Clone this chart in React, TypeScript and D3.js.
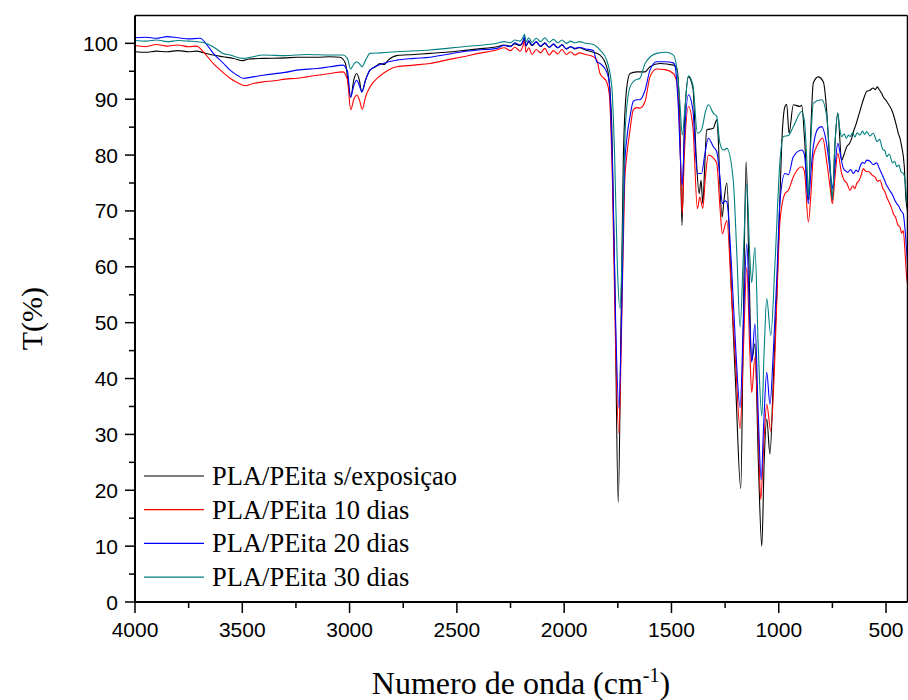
import React from "react";
import * as d3 from "d3";

type P = [number, number];

const seriesNames = [
  "PLA/PEita s/exposiçao",
  "PLA/PEita 10 dias",
  "PLA/PEita 20 dias",
  "PLA/PEita 30 dias",
];
const seriesColors = ["#000000", "#ff0000", "#0000ff", "#008080"];

const xTicks = [4000, 3500, 3000, 2500, 2000, 1500, 1000, 500];
const xMinorTicks = [3750, 3250, 2750, 2250, 1750, 1250, 750];
const yTicks = [0, 10, 20, 30, 40, 50, 60, 70, 80, 90, 100];
const yMinorTicks = [5, 15, 25, 35, 45, 55, 65, 75, 85, 95];

const black: P[] = [
  [4000, 98.5], [3950, 98.4], [3900, 98.6], [3850, 98.5], [3800, 98.7], [3750, 98.5], [3712, 98.6], [3680, 98.3], [3636, 97.9], [3590, 97.6], [3540, 97.3], [3497, 96.9], [3470, 97.2], [3403, 97.3], [3300, 97.4], [3246, 97.5], [3150, 97.5], [3091, 97.6], [3045, 97.5], [3020, 96.5], [2995, 90.3], [2980, 93.5], [2967, 94.6], [2955, 93.5], [2943, 91.3], [2925, 93.5], [2905, 95.2], [2880, 95.8], [2858, 96.4], [2840, 96.2], [2820, 97.0], [2780, 97.8], [2700, 98.0], [2625, 98.2], [2550, 98.4], [2471, 98.7], [2400, 99.0],
  [2314, 99.4], [2280, 99.7], [2250, 99.5], [2230, 99.9], [2206, 99.6], [2190, 100.4], [2185, 101.0], [2178, 99.5], [2165, 100.3], [2150, 99.6], [2130, 100.2], [2110, 99.4], [2090, 100.0], [2070, 99.3], [2050, 99.8], [2030, 99.2], [2010, 99.7], [1990, 99.0], [1970, 99.4], [1950, 99.0], [1930, 99.2], [1900, 98.8],
  [1864, 98.4], [1833, 97.9], [1802, 95.8], [1794, 94.5], [1778, 85], [1763, 55], [1748, 17.8], [1735, 50], [1724, 80], [1708, 92.2], [1693, 94.6], [1662, 94.9], [1623, 94.9], [1600, 95.8], [1553, 96.4], [1491, 96.1], [1475, 95.5], [1462, 88], [1451, 67.4], [1440, 85], [1421, 94], [1400, 92], [1385, 80], [1371, 73.1], [1362, 75.5], [1354, 71.3], [1345, 78], [1336, 84.5], [1305, 84.8], [1289, 86.3], [1282, 83], [1274, 74.5], [1264, 68.9], [1255, 72], [1242, 75], [1225, 60], [1200, 38], [1177, 20.3], [1165, 50], [1152, 78.8], [1140, 62], [1126, 43.2], [1111, 46.2], [1095, 25], [1079, 10], [1068, 25], [1056, 32.8], [1041, 26.5], [1025, 40], [1009, 55.2], [994, 73], [986, 82.1], [971, 88.7], [963, 89.1], [952, 83.9], [932, 89], [901, 88.7], [893, 88.9], [880, 83], [862, 71.9], [850, 85], [839, 92.9], [816, 94], [792, 93.1], [777, 88.1], [760, 77], [750, 71.9], [738, 82], [725, 87.5],
  [707, 79.1], [695, 80.2], [683, 81.5], [670, 82.1], [660, 83.0], [652, 84.2], [640, 85.5], [630, 86.8], [621, 88], [605, 90.0], [590, 91.4], [575, 91.6], [560, 92.0], [550, 91.7], [541, 92.2], [530, 91.6], [520, 91.0], [513, 90.4], [500, 89.8], [490, 89.2], [474, 88.1], [460, 86.5], [450, 85.0], [443, 83.9], [435, 83.0], [427, 81.5], [415, 78], [407, 71.9], [400, 70],
];

const red: P[] = [
  [4000, 99.6], [3950, 99.4], [3900, 99.8], [3850, 99.5], [3800, 99.7], [3750, 99.4], [3712, 99.5], [3689, 98.8], [3636, 96.4], [3590, 94.8], [3557, 93.75], [3520, 92.9], [3487, 92.4], [3450, 92.8], [3403, 93.1], [3350, 93.3], [3300, 93.6], [3246, 93.75], [3200, 94.0], [3150, 94.3], [3091, 94.6], [3031, 94.9], [3010, 93.5], [2995, 88.1], [2980, 90], [2967, 90.75], [2955, 90], [2941, 88.2], [2925, 90.5], [2905, 92.2], [2870, 93.8], [2844, 94.6], [2780, 95.8], [2700, 96.1], [2625, 96.4], [2550, 97.0], [2471, 97.6], [2400, 98.2],
  [2314, 98.8], [2280, 99.2], [2250, 98.7], [2230, 99.3], [2206, 98.6], [2190, 99.8], [2185, 100.5], [2178, 98.4], [2165, 99.2], [2150, 98.0], [2130, 98.9], [2110, 98.3], [2090, 99.1], [2070, 97.9], [2050, 98.7], [2030, 98.1], [2010, 98.9], [1990, 98.0], [1970, 98.5], [1950, 97.9], [1930, 98.3], [1900, 98.0],
  [1864, 97.6], [1848, 97], [1833, 94.6], [1802, 93.1], [1790, 91], [1775, 75], [1760, 45], [1745, 30.2], [1732, 50], [1718, 75], [1708, 80], [1693, 84.5], [1678, 88.1], [1662, 88.5], [1647, 88.4], [1623, 89.6], [1600, 94], [1569, 95.4], [1530, 95.3], [1491, 94.6], [1475, 93], [1462, 85], [1450, 69.5], [1440, 80], [1421, 88.7], [1400, 85], [1379, 70.4], [1368, 72.5], [1354, 70.5], [1342, 76], [1328, 80], [1305, 79.5], [1289, 78.5], [1274, 70.7], [1263, 65.9], [1250, 67.5], [1242, 68.3], [1220, 55], [1200, 42], [1180, 31], [1165, 45], [1149, 59.9], [1135, 45], [1126, 37.5], [1111, 43.8], [1095, 30], [1084, 18.3], [1070, 28], [1056, 35.4], [1037, 30.6], [1020, 42], [1009, 54], [994, 68.3], [971, 73.1], [955, 73.7], [932, 76.1], [893, 77.9], [880, 77], [862, 68], [850, 73], [839, 79.7], [816, 82.1], [795, 83], [777, 79], [760, 74], [750, 71.3], [738, 76], [725, 80.3],
  [707, 76.7], [695, 75.5], [683, 75.0], [668, 73.7], [655, 74.5], [645, 74.0], [637, 74.9], [625, 75.5], [615, 76.5], [606, 77.6], [595, 77.1], [580, 77], [565, 76.4], [550, 76.0], [540, 75.3], [528, 75.5], [515, 74.0], [505, 73.4], [497, 72.5], [485, 71.5], [475, 70.6], [466, 69.5], [455, 68.8], [445, 67.5], [435, 67.1], [427, 66.0], [420, 66.5], [412, 63], [404, 58.1], [400, 57],
];

const blue: P[] = [
  [4000, 101.0], [3950, 101.1], [3900, 100.9], [3850, 101.2], [3800, 101.0], [3750, 100.8], [3697, 100.9], [3660, 99.5], [3635, 98.2], [3590, 96.5], [3557, 95.2], [3520, 94.2], [3497, 93.75], [3450, 94.0], [3403, 94.3], [3300, 94.8], [3246, 95.2], [3150, 95.5], [3091, 95.8], [3031, 96.1], [3010, 95], [2995, 90.4], [2980, 92.5], [2967, 93.4], [2955, 92.5], [2943, 91.3], [2925, 93.5], [2905, 95.2], [2844, 96.4], [2780, 97.0], [2700, 97.3], [2625, 97.5], [2550, 98], [2471, 98.5], [2400, 98.8],
  [2314, 99.1], [2280, 99.6], [2250, 99.4], [2230, 100.1], [2206, 99.7], [2190, 100.6], [2185, 101.2], [2178, 99.6], [2165, 100.5], [2150, 99.7], [2130, 100.3], [2110, 99.5], [2090, 100.1], [2070, 99.3], [2050, 99.9], [2030, 99.2], [2010, 99.8], [1990, 99.0], [1970, 99.4], [1950, 99.1], [1930, 99.3], [1900, 99.0],
  [1864, 98.7], [1848, 96.7], [1833, 96.4], [1802, 94.9], [1790, 93], [1775, 78], [1760, 50], [1745, 34.7], [1732, 52], [1718, 78], [1708, 83], [1693, 86.9], [1678, 89.6], [1662, 89.9], [1647, 89.9], [1623, 91.6], [1600, 95.2], [1569, 96.7], [1530, 96.7], [1491, 96.5], [1482, 95.8], [1470, 90], [1450, 74.6], [1440, 83], [1421, 90.8], [1400, 88], [1379, 76.7], [1360, 76.7], [1345, 80], [1328, 83], [1305, 81.5], [1289, 80.6], [1274, 76], [1263, 71.3], [1250, 71.8], [1242, 71.6], [1220, 60], [1200, 45], [1180, 34.8], [1165, 50], [1149, 64.1], [1135, 50], [1126, 42.9], [1111, 49.8], [1095, 33], [1082, 21.9], [1070, 32], [1056, 41.1], [1041, 35.4], [1025, 45], [1009, 58.1], [994, 71.9], [971, 76.7], [955, 76.5], [932, 79.7], [893, 80.9], [880, 80], [862, 71.3], [850, 77], [839, 81.5], [816, 84.8], [800, 85.1], [777, 82], [760, 77], [750, 74], [738, 78],
  [725, 82.1], [710, 79.5], [699, 77.6], [690, 77.2], [680, 76.9], [665, 77.4], [652, 76.7], [640, 77.3], [630, 77.0], [621, 78], [610, 78.7], [600, 78.5], [590, 79.1], [575, 78.9], [560, 78.3], [544, 78.6], [530, 77.5], [515, 76.2], [505, 75.3], [497, 74.6], [485, 73.8], [470, 72.9], [460, 72.0], [450, 71.3], [440, 70.8], [430, 70.0], [420, 69.5], [410, 66], [401, 61.1], [400, 60.5],
];

const teal: P[] = [
  [4000, 100.5], [3950, 100.4], [3900, 100.6], [3850, 100.3], [3800, 100.5], [3750, 100.4], [3689, 100.2], [3636, 99.4], [3590, 98.2], [3557, 97.9], [3497, 97.3], [3450, 97.6], [3403, 97.9], [3300, 97.8], [3200, 98.0], [3091, 97.9], [3031, 97.9], [3010, 97.3], [2995, 95.4], [2980, 96.3], [2967, 96.7], [2955, 96.4], [2943, 95.8], [2925, 97], [2905, 98.2], [2858, 98.3], [2780, 98.5], [2625, 98.8], [2471, 99.4],
  [2314, 100], [2280, 100.3], [2250, 100.1], [2230, 100.6], [2206, 100.4], [2190, 101.2], [2185, 101.6], [2178, 100.3], [2165, 101.0], [2150, 100.2], [2130, 100.9], [2110, 100.3], [2090, 101.0], [2070, 100.2], [2050, 100.7], [2030, 100.1], [2010, 100.6], [1990, 100.0], [1970, 100.4], [1950, 100.1], [1930, 100.3], [1900, 100.0],
  [1864, 99.8], [1833, 98.8], [1802, 97], [1778, 92.2], [1765, 80], [1752, 60], [1740, 52.5], [1728, 65], [1715, 85], [1693, 92.2], [1670, 93.4], [1647, 93.75], [1623, 96.4], [1569, 98.2], [1522, 98.4], [1491, 97.9], [1475, 95.5], [1462, 90], [1449, 83.6], [1438, 88], [1421, 94.2], [1400, 92.5], [1379, 83.9], [1360, 84.5], [1340, 88], [1328, 89], [1305, 87.5], [1289, 86.9], [1274, 82.1], [1258, 80.9], [1242, 81.2], [1212, 75.5], [1195, 62], [1180, 49.2], [1165, 62], [1149, 74.9], [1135, 62], [1126, 57.2], [1111, 63.5], [1095, 45], [1079, 33.3], [1068, 45], [1056, 54.3], [1037, 47.7], [1017, 61.1], [994, 79.1], [979, 83.3], [955, 83.5], [932, 85.1], [893, 87.8], [880, 86], [868, 78], [862, 72.5], [850, 83], [839, 89.3], [800, 89.9], [777, 87], [760, 78], [750, 72], [738, 82],
  [725, 87.5], [715, 84.5], [707, 83.3], [695, 83.8], [685, 83.0], [675, 83.6], [668, 83.3], [655, 84.0], [645, 83.2], [635, 84.0], [621, 83.6], [610, 84.3], [600, 83.7], [590, 84.2], [575, 83.4], [560, 83.9], [541, 82.4], [530, 82.8], [515, 81.0], [505, 80.8], [497, 79.7], [485, 80.2], [470, 78.6], [460, 78.9], [450, 77.9], [440, 78.2], [430, 77.0], [419, 76.7], [410, 75], [404, 71.9], [400, 71],
];

const allSeries = [black, red, blue, teal];

const SANS = "'Liberation Sans', Arimo, Arial, sans-serif";
const SERIF = "'Liberation Serif', Tinos, 'Times New Roman', serif";

export default function App() {
  const W = 908;
  const H = 700;
  const x = d3.scaleLinear().domain([4000, 400]).range([135, 907.5]);
  const y = d3.scaleLinear().domain([0, 105]).range([602, 15.4]);
  const line = d3
    .line<P>()
    .x((d) => x(d[0]))
    .y((d) => y(d[1]))
    .curve(d3.curveMonotoneX);

  const left = x(4000);
  const right = x(400);
  const top = y(105);
  const bottom = y(0);

  return (
    <svg
      width={W}
      height={H}
      style={{ position: "absolute", left: 0, top: 0, background: "#fff" }}
    >
      <defs>
        <clipPath id="plot">
          <rect x={left} y={top} width={right - left} height={bottom - top} />
        </clipPath>
      </defs>
      <rect x={0} y={0} width={W} height={H} fill="#fff" />
      <g clipPath="url(#plot)">
        {allSeries.map((s, i) => (
          <path
            key={i}
            d={line(s) || ""}
            fill="none"
            stroke={seriesColors[i]}
            strokeWidth={1.1}
            strokeLinejoin="round"
          />
        ))}
      </g>
      <line x1={left} x2={right} y1={top} y2={top} stroke="#000" strokeWidth={1.5} />
      <line x1={right} x2={right} y1={top} y2={bottom} stroke="#000" strokeWidth={1.5} />
      <line x1={left} x2={left} y1={top} y2={bottom + 1} stroke="#000" strokeWidth={2} />
      <line x1={left - 1} x2={right} y1={bottom} y2={bottom} stroke="#000" strokeWidth={2} />
      {yTicks.map((t) => (
        <g key={"y" + t}>
          <line x1={left - 10} x2={left} y1={y(t)} y2={y(t)} stroke="#000" strokeWidth={1.5} />
          <text
            x={left - 17}
            y={y(t) + 7.5}
            textAnchor="end"
            style={{ fontFamily: SANS, fontSize: 21 }}
            fill="#000"
          >
            {t}
          </text>
        </g>
      ))}
      {yMinorTicks.map((t) => (
        <line key={"ym" + t} x1={left - 6} x2={left} y1={y(t)} y2={y(t)} stroke="#000" strokeWidth={1.5} />
      ))}
      {xTicks.map((t) => (
        <g key={"x" + t}>
          <line x1={x(t)} x2={x(t)} y1={bottom} y2={bottom + 11} stroke="#000" strokeWidth={1.5} />
          <text
            x={x(t)}
            y={bottom + 35}
            textAnchor="middle"
            style={{ fontFamily: SANS, fontSize: 21 }}
            fill="#000"
          >
            {t}
          </text>
        </g>
      ))}
      {xMinorTicks.map((t) => (
        <line key={"xm" + t} x1={x(t)} x2={x(t)} y1={bottom} y2={bottom + 6} stroke="#000" strokeWidth={1.5} />
      ))}
      <text
        transform={`translate(42, ${(top + bottom) / 2 + 10}) rotate(-90)`}
        textAnchor="middle"
        style={{ fontFamily: SERIF, fontSize: 30 }}
        fill="#000"
      >
        T(%)
      </text>
      <text
        x={521}
        y={694}
        textAnchor="middle"
        style={{ fontFamily: SERIF, fontSize: 32 }}
        fill="#000"
      >
        Numero de onda (cm
        <tspan dy={-12} style={{ fontSize: 20 }}>-1</tspan>
        <tspan dy={12}>)</tspan>
      </text>
      {seriesNames.map((n, i) => {
        const ly = 476 + i * 33.7;
        return (
          <g key={"l" + i}>
            <line x1={144} x2={204} y1={ly} y2={ly} stroke={seriesColors[i]} strokeWidth={1.2} />
            <text
              x={212}
              y={ly + 9}
              style={{ fontFamily: SERIF, fontSize: 26.5 }}
              fill="#000"
            >
              {n}
            </text>
          </g>
        );
      })}
    </svg>
  );
}
